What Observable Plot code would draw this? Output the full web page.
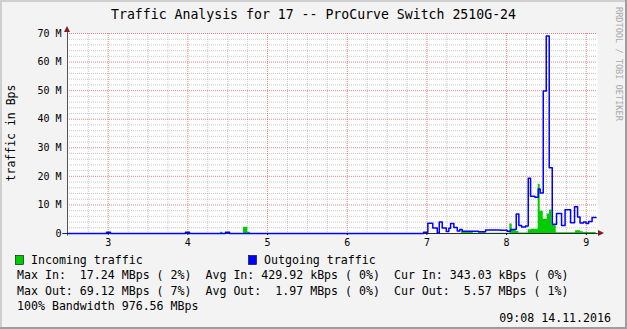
<!DOCTYPE html>
<html><head><meta charset="utf-8">
<script src="https://cdn.jsdelivr.net/npm/d3@7"></script>
<script src="https://cdn.jsdelivr.net/npm/@observablehq/plot@0.6"></script>
<style>
html,body{margin:0;padding:0;background:#f3f3f3;}
#chart{width:627px;height:329px;position:relative;overflow:hidden;}
svg text{font-family:"DejaVu Sans Mono",monospace;}
</style></head><body><div id="chart"></div>
<script>
// ---- data (hours of day, MBps) ----
const xTicks = [3, 4, 5, 6, 7, 8, 9];
const yTicks = [0, 10, 20, 30, 40, 50, 60, 70];
const xDomain = [2.489, 9.141];

// Incoming traffic (step-after breakpoints)
const inTimes  = [2.489, 4.410, 4.441, 4.698, 4.752, 4.786, 7.435, 7.581, 7.648, 7.736, 8.041, 8.071, 8.119, 8.154, 8.272, 8.313, 8.397, 8.422, 8.460, 8.510, 8.539, 8.568, 8.623, 8.866, 8.928, 8.962, 9.123];
const inValues = [0,     0.4,   0,     2.2,   0.45,  0,     0.6,   0.1,   0.3,   0.1,   3.3,   1.4,   0.7,   0.2,   1.3,   1.5,   17.24, 7.8,   5.0,   6.8,   8.2,   2.9,   0.3,   1.0,   0.6,   0.34,  0.34];

// Outgoing traffic (step-after breakpoints)
const outTimes  = [2.489, 2.979, 3.029, 3.970, 4.020, 4.472, 4.523, 6.958, 7.012, 7.074, 7.130, 7.155, 7.192, 7.243, 7.275, 7.297, 7.338, 7.381, 7.413, 7.443, 7.648, 7.736, 7.924, 8.008, 8.050, 8.121, 8.154, 8.188, 8.238, 8.272, 8.301, 8.355, 8.397, 8.422, 8.460, 8.498, 8.535, 8.573, 8.627, 8.690, 8.734, 8.803, 8.853, 8.891, 8.922, 8.966, 8.997, 9.029, 9.073, 9.123];
const outValues = [0,     0.4,   0,     0.4,   0,     0.4,   0,     0.4,   3.6,   1.9,   0.2,   4.0,   1.9,   0.7,   1.8,   3.5,   2.1,   0.9,   1.4,   0.8,   0.6,   1.2,   1.1,   0.8,   1.4,   6.8,   2.8,   2.3,   2.6,   19.3,  13.0,  12.7,  15.6,  14.2,  49.9,  69.1,  23.0,  3.2,   7.0,   2.8,   8.3,   3.8,   9.4,   5.8,   3.7,   4.0,   3.5,   4.2,   5.6,   5.6];

const title = "Traffic Analysis for 17 -- ProCurve Switch 2510G-24";
const yLabel = "traffic in Bps";
const watermark = "RRDTOOL / TOBI OETIKER";
const legendNames = ["Incoming traffic", "Outgoing traffic"];
const legendColors = ["#00cc00", "#0000ff"];
const statLines = [
  "Max In:  17.24 MBps ( 2%)  Avg In: 429.92 kBps ( 0%)  Cur In: 343.03 kBps ( 0%)",
  "Max Out: 69.12 MBps ( 7%)  Avg Out:  1.97 MBps ( 0%)  Cur Out:  5.57 MBps ( 1%)",
  "100% Bandwidth 976.56 MBps"
];
const stamp = "09:08 14.11.2016";

// ---- build ----
const inData = inTimes.map((t, i) => ({t, v: inValues[i]}));
const outData = outTimes.map((t, i) => ({t, v: outValues[i]}));
const minorX = d3.range(2.75, 9.01, 0.25).filter(d => Math.abs(d - Math.round(d)) > 1e-6);
const minorY = d3.range(2, 70, 2).filter(d => d % 10 !== 0);

const plot = Plot.plot({
  width: 627, height: 329,
  marginLeft: 67, marginRight: 30, marginTop: 33, marginBottom: 96,
  x: {domain: xDomain, label: null},
  y: {domain: [0, 70], label: null},
  style: {background: "transparent", fontFamily: "DejaVu Sans Mono", fontSize: "10px", color: "#000"},
  marks: [
    Plot.frame({fill: "white", stroke: "none"}),
    Plot.ruleX(minorX, {stroke: "#9a9a9a", strokeOpacity: 0.55, strokeDasharray: "1,1"}),
    Plot.ruleY(minorY, {stroke: "#9a9a9a", strokeOpacity: 0.55, strokeDasharray: "1,1"}),
    Plot.ruleX(xTicks, {stroke: "#e05050", strokeOpacity: 0.7, strokeDasharray: "1,1"}),
    Plot.ruleY(yTicks.filter(d => d > 0), {stroke: "#e05050", strokeOpacity: 0.7, strokeDasharray: "1,1"}),
    Plot.areaY(inData, {x: "t", y: "v", curve: "step-after", fill: "#00cc00"}),
    Plot.ruleY([0], {x1: xDomain[0] - 0.06, x2: xDomain[1] + 0.01, stroke: "#2a2a2a", strokeWidth: 1}),
    Plot.ruleX([xDomain[0]], {y1: -0.9, y2: 71.5, stroke: "#555", strokeWidth: 1}),
    Plot.lineY(outData, {x: "t", y: "v", curve: "step-after", stroke: "#0000ff", strokeWidth: 1.5}),
    Plot.axisX({ticks: xTicks, tickSize: 2, tickPadding: 3, tickFormat: d => String(d), fontSize: 10, label: null}),
    Plot.axisY({ticks: yTicks, tickSize: 0, tickPadding: 6, tickFormat: d => d === 0 ? "0" : d + " M", fontSize: 10, label: null})
  ]
});

document.getElementById("chart").appendChild(plot);
const svg = d3.select(plot);
const sx = plot.scale("x"), sy = plot.scale("y");
const x0 = sx.apply(xDomain[0]), x1 = sx.apply(xDomain[1]);
const y0 = sy.apply(0), yTop = sy.apply(70);

// arrows
svg.append("path").attr("d", `M${x1 + 1},${y0 - 3}L${x1 + 7},${y0}L${x1 + 1},${y0 + 3}Z`).attr("fill", "#7f1f1f");
svg.append("path").attr("d", `M${x0 - 3},${yTop - 1}L${x0},${yTop - 7}L${x0 + 3},${yTop - 1}Z`).attr("fill", "#7f1f1f");

// border shading
svg.append("rect").attr("x", 0).attr("y", 0).attr("width", 627).attr("height", 2).attr("fill", "#cfcfcf");
svg.append("rect").attr("x", 0).attr("y", 0).attr("width", 2).attr("height", 329).attr("fill", "#cfcfcf");
svg.append("rect").attr("x", 625).attr("y", 0).attr("width", 2).attr("height", 329).attr("fill", "#9e9e9e");
svg.append("rect").attr("x", 0).attr("y", 327).attr("width", 627).attr("height", 2).attr("fill", "#9e9e9e");

// title
svg.append("text").attr("x", 313.5).attr("y", 19).attr("text-anchor", "middle")
  .attr("font-size", "13.2px").attr("fill", "#000").text(title);
// y label
svg.append("text").attr("transform", `translate(15,${(y0 + yTop) / 2}) rotate(-90)`)
  .attr("text-anchor", "middle").attr("font-size", "11.5px").attr("fill", "#000").text(yLabel);
// watermark
svg.append("text").attr("transform", "translate(616,7) rotate(90)")
  .attr("text-anchor", "start").attr("font-size", "8.6px").attr("fill", "#aaaaaa").text(watermark);

// legend
const lx = [15, 248];
legendNames.forEach((name, i) => {
  svg.append("rect").attr("x", lx[i] + 0.5).attr("y", 255.5).attr("width", 8).attr("height", 9)
    .attr("fill", legendColors[i]).attr("stroke", "#000").attr("stroke-width", 0.6);
  svg.append("text").attr("x", lx[i] + 16).attr("y", 264).attr("text-anchor", "start").attr("font-size", "11.6px").attr("fill", "#000")
    .style("white-space", "pre").text(name);
});
statLines.forEach((s, i) => {
  svg.append("text").attr("x", 17).attr("y", 279 + i * 15.5).attr("text-anchor", "start").attr("font-size", "11.6px").attr("fill", "#000")
    .style("white-space", "pre").text(s);
});
svg.append("text").attr("x", 611).attr("y", 322).attr("text-anchor", "end").attr("font-size", "11.6px")
  .attr("fill", "#000").style("white-space", "pre").text(stamp);
</script></body></html>
